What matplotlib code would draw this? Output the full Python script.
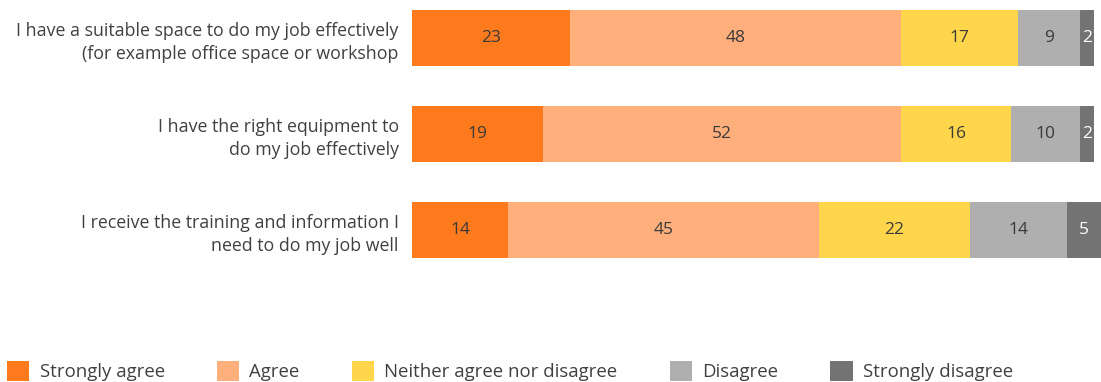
import matplotlib.pyplot as plt
from matplotlib.patches import Patch

plt.rcParams['font.family'] = ['Open Sans', 'DejaVu Sans']

# survey statements and response shares (%)
statements = ['I have a suitable space to do my job effectively\n(for example office space or workshop',
              'I have the right equipment to\ndo my job effectively',
              'I receive the training and information I\nneed to do my job well']
responses = ['Strongly agree', 'Agree', 'Neither agree nor disagree', 'Disagree', 'Strongly disagree']
strongly_agree = [23, 19, 14]
agree = [48, 52, 45]
neither = [17, 16, 22]
disagree = [9, 10, 14]
strongly_disagree = [2, 2, 5]

series = [strongly_agree, agree, neither, disagree, strongly_disagree]
colors = ['#FE7A1D', '#FFAF7B', '#FFD54B', '#AFAFAF', '#737373']
text_colors = ['#3a3a3a', '#3a3a3a', '#3a3a3a', '#3a3a3a', 'white']

fig = plt.figure(figsize=(11.01, 3.82), dpi=100)
ax = fig.add_axes([412/1101, 124/382, 689/1101, 248/382])

bh = 56/96
ypos = range(len(statements))
left = [0, 0, 0]
for vals, c, tc in zip(series, colors, text_colors):
    bars = ax.barh(ypos, vals, left=left, height=bh, color=c, lw=0)
    ax.bar_label(bars, labels=[str(v) for v in vals], label_type='center',
                 color=tc, fontsize=12.5)
    left = [l + v for l, v in zip(left, vals)]

ax.set_xlim(0, 100)
ax.set_ylim(len(statements) - 1 + bh/2, -bh/2)
ax.set_yticks(list(ypos))
ax.set_yticklabels(statements, fontsize=12.8, color='#404040', linespacing=1.35)
ax.tick_params(axis='y', length=0, pad=9.5)
ax.set_xticks([])
for s in ax.spines.values():
    s.set_visible(False)

# legend along the bottom
handles = [Patch(facecolor=c, edgecolor='none') for c in colors]
fig.legend(handles, responses, loc='upper left', bbox_to_anchor=(7/1101, 21/382),
           ncol=5, frameon=False, fontsize=13.4, labelcolor='#404040',
           handlelength=1.2, handleheight=1.3, handletextpad=0.55,
           columnspacing=2.8, borderpad=0, borderaxespad=0)

plt.savefig('out.png')
